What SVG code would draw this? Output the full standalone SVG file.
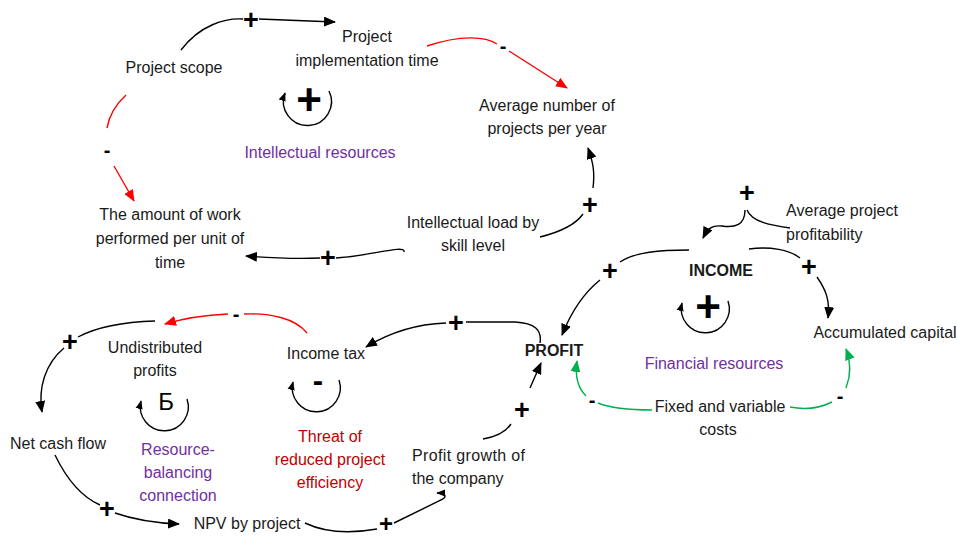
<svg xmlns="http://www.w3.org/2000/svg" width="957" height="537" viewBox="0 0 957 537">
<style>
text{font-family:"Liberation Sans",Arial,sans-serif;font-size:16px;fill:#1a1a1a;text-anchor:middle}
.b{font-weight:bold}
.pur{fill:#7030A0}
.red{fill:#C00000}
.sg{font-size:20px;font-weight:bold;fill:#000}
.pl{font-size:27px;font-weight:bold;fill:#000}
.big{font-size:44px;font-weight:bold;fill:#000}
.c{fill:none;stroke:#000;stroke-width:1.4}
.r{fill:none;stroke:#FF0000;stroke-width:1.4}
.g{fill:none;stroke:#00B050;stroke-width:1.4}
</style>
<defs>
<marker id="ab" viewBox="0 0 12 10" refX="11" refY="5" markerWidth="12" markerHeight="10" markerUnits="userSpaceOnUse" orient="auto"><path d="M0,0 L12,5 L0,10 Z" fill="#000"/></marker>
<marker id="ar" viewBox="0 0 12 10" refX="11" refY="5" markerWidth="12" markerHeight="10" markerUnits="userSpaceOnUse" orient="auto"><path d="M0,0 L12,5 L0,10 Z" fill="#FF0000"/></marker>
<marker id="ag" viewBox="0 0 12 10" refX="11" refY="5" markerWidth="12" markerHeight="10" markerUnits="userSpaceOnUse" orient="auto"><path d="M0,0 L12,5 L0,10 Z" fill="#00B050"/></marker>
<marker id="as" viewBox="0 0 10 8" refX="9" refY="4" markerWidth="9" markerHeight="8" markerUnits="userSpaceOnUse" orient="auto"><path d="M0,0 L10,4 L0,8 Z" fill="#000"/></marker>
</defs>

<g id="connectors">
<path class="c" d="M181,50 C200,25 225,18 243,19 M259,19 L335,22" marker-end="url(#ab)"/>
<text class="pl" x="251" y="29">+</text>
<path class="r" d="M427,46 C460,35 485,36 497,44"/>
<path class="r" d="M509,51 L567,88" marker-end="url(#ar)"/>
<text class="sg" x="503" y="53">-</text>
<path class="r" d="M126,95 C115,105 109,117 107,128"/>
<path class="r" d="M114,166 L134,201" marker-end="url(#ar)"/>
<text class="sg" x="107" y="157">-</text>
<path class="c" d="M540,237 C560,232 576,224 583,214"/>
<path class="c" d="M593,188 C595,172 593,162 588,148" marker-end="url(#ab)"/>
<text class="pl" x="590" y="214">+</text>
<path class="c" d="M404,252 C406,244 370,256 336,258 M320,258 C295,259 272,258 246,256" marker-end="url(#ab)"/>
<text class="pl" x="328" y="267">+</text>
<path class="c" d="M747,210 C752,222 770,225 790,228"/>
<path class="c" d="M745,210 C745,225 735,228 722,226 C712,225 708,228 703,238" marker-end="url(#ab)"/>
<text class="pl" x="747" y="202">+</text>
<path class="c" d="M689,250 C660,250 635,252 620,262"/>
<path class="c" d="M600,280 C585,292 572,310 562,335" marker-end="url(#ab)"/>
<text class="pl" x="610" y="280">+</text>
<path class="c" d="M749,249 C770,246 790,250 800,258"/>
<path class="c" d="M817,277 C826,290 830,300 828,318" marker-end="url(#ab)"/>
<text class="pl" x="809" y="276">+</text>
<path class="g" d="M652,410 C630,410 610,408 598,403"/>
<path class="g" d="M586,396 C578,388 575,375 577,361" marker-end="url(#ag)"/>
<text class="sg" x="592" y="407">-</text>
<path class="g" d="M790,407 C805,410 820,408 832,402"/>
<path class="g" d="M846,388 C851,375 851,362 846,349" marker-end="url(#ag)"/>
<text class="sg" x="840" y="403">-</text>
<path class="c" d="M540,343 C542,330 535,323 515,322 L466,322 M446,323 C418,324 392,331 366,347" marker-end="url(#ab)"/>
<text class="pl" x="456" y="332">+</text>
<path class="c" d="M483,439 C495,437 505,433 511,424"/>
<path class="c" d="M530,388 L541,363" marker-end="url(#ab)"/>
<text class="pl" x="522" y="419">+</text>
<path class="c" d="M305,523 C330,535 360,532 377,529 M394,523 L443,499 C447,496 445,493 437,493" marker-end="url(#as)"/>
<text class="pl" x="386" y="532" style="font-size:24px">+</text>
<path class="r" d="M307,333 C295,318 270,313 244,314"/>
<path class="r" d="M228,314 C205,315 185,318 165,324" marker-end="url(#ar)"/>
<text class="sg" x="236" y="321">-</text>
<path class="c" d="M155,321 C120,322 95,328 78,337 M64,348 C45,364 38,388 42,412" marker-end="url(#ab)"/>
<text class="pl" x="70" y="351">+</text>
<path class="c" d="M55,455 C68,482 82,497 100,505 M115,513 C135,520 155,523 179,524" marker-end="url(#ab)"/>
<text class="pl" x="107" y="518">+</text>
</g>

<g id="loop-intellectual">
<path class="c" d="M329,91 A24,24 0 1 1 285,93" marker-end="url(#as)"/>
<text class="big" x="309" y="115">+</text>
<text class="pur" x="320" y="158">Intellectual resources</text>
</g>
<g id="loop-financial">
<path class="c" d="M728,301 A24,24 0 1 1 682,303" marker-end="url(#as)"/>
<text class="big" x="708" y="322">+</text>
<text class="pur" x="714" y="369">Financial resources</text>
</g>
<g id="loop-balancing">
<path class="c" d="M187,399 A24,24 0 1 1 141,401" marker-end="url(#as)"/>
<text x="166" y="410" style="font-size:24px;fill:#000">Б</text>
<text class="pur" x="178" y="455">Resource-</text>
<text class="pur" x="178" y="478">balancing</text>
<text class="pur" x="178" y="501">connection</text>
</g>
<g id="loop-threat">
<path class="c" d="M339,380 A24,24 0 1 1 293,382" marker-end="url(#as)"/>
<text x="318" y="391" style="font-size:31px;font-weight:bold;fill:#000">-</text>
<text class="red" x="330" y="442">Threat of</text>
<text class="red" x="330" y="465">reduced project</text>
<text class="red" x="330" y="488">efficiency</text>
</g>

<g id="node-project-scope"><text x="174" y="73">Project scope</text></g>
<g id="node-implementation-time"><text x="367" y="42">Project</text><text x="367" y="66">implementation time</text></g>
<g id="node-avg-projects"><text x="547" y="111">Average number of</text><text x="547" y="134">projects per year</text></g>
<g id="node-amount-work"><text x="170" y="220">The amount of work</text><text x="170" y="244">performed per unit of</text><text x="170" y="268">time</text></g>
<g id="node-intellectual-load"><text x="473" y="228">Intellectual load by</text><text x="473" y="251">skill level</text></g>
<g id="node-avg-profitability"><text x="842" y="216">Average project</text><text x="786" y="240" style="text-anchor:start">profitability</text></g>
<g id="node-income"><text class="b" x="721" y="276">INCOME</text></g>
<g id="node-accumulated-capital"><text x="885" y="338">Accumulated capital</text></g>
<g id="node-profit"><text class="b" x="554" y="356">PROFIT</text></g>
<g id="node-costs"><text x="720" y="412">Fixed and variable</text><text x="718" y="435">costs</text></g>
<g id="node-undistributed"><text x="155" y="353">Undistributed</text><text x="155" y="376">profits</text></g>
<g id="node-income-tax"><text x="326" y="359">Income tax</text></g>
<g id="node-net-cash-flow"><text x="58" y="449">Net cash flow</text></g>
<g id="node-profit-growth"><text x="412" y="461" style="text-anchor:start" textLength="113" lengthAdjust="spacing">Profit growth of</text><text x="412" y="484" style="text-anchor:start">the company</text></g>
<g id="node-npv"><text x="247" y="529">NPV by project</text></g>
</svg>
